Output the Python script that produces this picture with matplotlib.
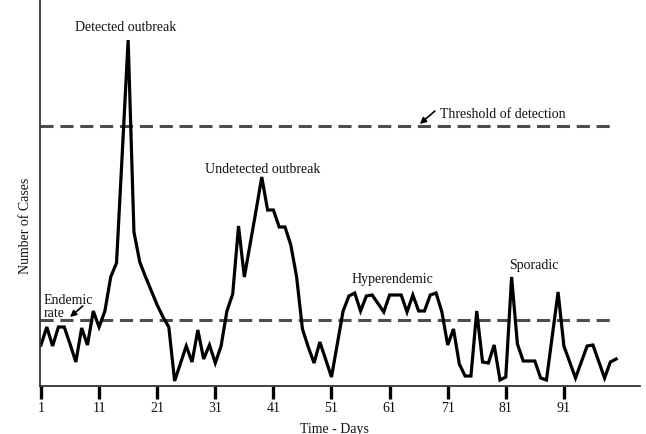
import matplotlib
matplotlib.use("Agg")
import matplotlib.pyplot as plt

days = list(range(1, 101))
cases = [4.2, 6.0, 4.1, 6.0, 6.0, 4.3, 2.5, 5.9, 4.2, 7.6,
         6.0, 7.6, 11.0, 12.4, 23.5, 34.7, 15.5, 12.5, 11.0, 9.6,
         8.2, 7.0, 6.0, 0.6, 2.35, 4.1, 2.5, 5.7, 2.8, 4.2,
         2.4, 4.1, 7.6, 9.3, 16.1, 11.0, 14.3, 17.6, 21.0, 17.7,
         17.7, 16.0, 16.0, 14.2, 11.0, 5.8, 4.0, 2.4, 4.5, 2.75,
         1.0, 4.3, 7.6, 9.1, 9.4, 7.6, 9.1, 9.2, 8.35, 7.5,
         9.2, 9.2, 9.2, 7.5, 9.2, 7.6, 7.6, 9.2, 9.4, 7.5,
         4.2, 5.8, 2.3, 1.1, 1.1, 7.6, 2.5, 2.4, 4.2, 0.7,
         1.0, 11.0, 4.3, 2.6, 2.6, 2.6, 0.9, 0.7, 5.1, 9.5,
         4.1, 2.5, 0.9, 2.5, 4.1, 4.2, 2.55, 0.9, 2.5, 2.8]

tick_days = [1, 11, 21, 31, 41, 51, 61, 71, 81, 91]
endemic_rate = 6.75
threshold = 26.1
ref_line_end = 99.2

plt.rcParams['font.family'] = ['Liberation Serif', 'DejaVu Serif']

fig = plt.figure(figsize=(6.46, 4.35), dpi=100)
ax = fig.add_axes([40/646, 48/435, 600/646, 387/435])
ax.set_xlim(0.83, 104.1)
ax.set_ylim(0.1, 38.8)

dash_col = '#4d4d4d'
ax.hlines([threshold, endemic_rate], 0.83, ref_line_end, colors=dash_col,
          linewidth=2.2, linestyles=(0, (4.3, 2.2)))
ax.plot(days, cases, color='black', linewidth=2.3, solid_joinstyle='miter')

for s in ['top', 'right']:
    ax.spines[s].set_visible(False)
for s in ['left', 'bottom']:
    ax.spines[s].set_linewidth(1.3)
    ax.spines[s].set_color('#333333')

ax.set_yticks([])
ax.set_xticks(tick_days)
ax.set_xticklabels([str(d) for d in tick_days])
ax.tick_params(axis='x', direction='out', length=9.5, width=2.4, color='black',
               labelsize=10, pad=1.5, labelcolor='#111111')

tc = '#111111'
fs = 10
ax.text(15.6, 36.0, 'Detected outbreak', ha='center', va='center', fontsize=fs, color=tc)
ax.text(69.7, 27.3, 'Threshold of detection', ha='left', va='center', fontsize=fs, color=tc)
ax.text(39.1, 21.8, 'Undetected outbreak', ha='center', va='center', fontsize=fs, color=tc)
ax.text(61.4, 10.8, 'Hyperendemic', ha='center', va='center', fontsize=fs, color=tc)
ax.text(85.9, 12.2, 'Sporadic', ha='center', va='center', fontsize=fs, color=tc)
ax.text(1.45, 8.7, 'Endemic', ha='left', va='center', fontsize=fs, color=tc)
ax.text(1.45, 7.4, 'rate', ha='left', va='center', fontsize=fs, color=tc)

arrow = dict(arrowstyle='-|>', color='black', lw=1.2, mutation_scale=9, shrinkA=0, shrinkB=0)
ax.annotate('', xy=(66.2, 26.3), xytext=(68.8, 27.6), arrowprops=arrow)
ax.annotate('', xy=(6.0, 7.0), xytext=(8.2, 8.1), arrowprops=arrow)

fig.text(26/646, 1 - 226/435, 'Number of Cases', rotation=90, ha='center', va='center',
         fontsize=fs, color=tc)
fig.text(334/646, 1 - 430/435, 'Time - Days', ha='center', va='center', fontsize=fs, color=tc)

fig.savefig('out.png', dpi=100)
